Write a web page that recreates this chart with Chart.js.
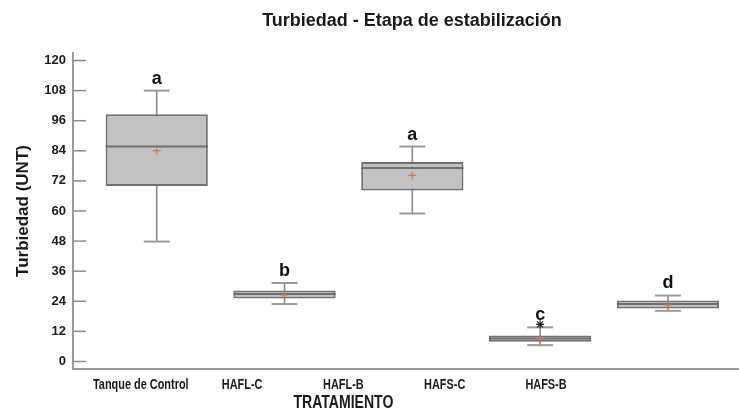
<!DOCTYPE html>
<html><head><meta charset="utf-8">
<script src="https://cdn.jsdelivr.net/npm/chart.js@4.4.1/dist/chart.umd.min.js"></script>
<style>html,body{margin:0;padding:0;background:#fff;}#wrap{width:739px;height:415px;}</style>
</head><body><div id="wrap"><canvas id="c" width="739" height="415"></canvas></div>
<script>
const categories = ['Tanque de Control','HAFL-C','HAFL-B','HAFS-C','HAFS-B'];
const whiskerLow  = [47.8, 22.9, 59.0, 6.5, 20.2];
const q1          = [70.0, 25.1, 68.2, 7.9, 21.1];
const median      = [85.7, 26.9, 77.1, 9.2, 22.9];
const q3          = [98.6, 28.3, 79.5, 10.4, 24.3];
const whiskerHigh = [108.0, 31.3, 85.7, 13.6, 26.3];
const means       = [84.1, 26.5, 74.2, 9.0, 22.6];
const outliers    = [[], [], [], [14.8], []];
const letters     = ['a','b','a','c','d'];
const yTicks      = [0,12,24,36,48,60,72,84,96,108,120];
const chartTitle  = 'Turbiedad - Etapa de estabilización';
const xTitle      = 'TRATAMIENTO';
const yTitle      = 'Turbiedad (UNT)';

const SANS = "'Liberation Sans',Arial,sans-serif";

function narrowText(ctx, text, x, y, size, squeeze) {
  ctx.save();
  ctx.font = 'bold ' + size + 'px ' + SANS;
  ctx.textAlign = 'center'; ctx.textBaseline = 'middle';
  ctx.translate(x, y);
  ctx.scale(squeeze, 1);
  ctx.fillText(text, 0, 0);
  ctx.restore();
}

const extras = {
  id: 'boxExtras',
  beforeDatasetsDraw(chart) {
    const ctx = chart.ctx, xs = chart.scales.x, ys = chart.scales.y;
    ctx.save();
    categories.forEach((c, i) => {
      const px = xs.getPixelForValue(i + 1);
      ctx.strokeStyle = '#8a8a8a';
      ctx.lineWidth = 1.6;
      ctx.beginPath();
      ctx.moveTo(px, ys.getPixelForValue(whiskerLow[i]));
      ctx.lineTo(px, ys.getPixelForValue(whiskerHigh[i]));
      ctx.stroke();
      ctx.strokeStyle = '#9a9a9a';
      ctx.lineWidth = 2;
      [whiskerLow[i], whiskerHigh[i]].forEach(v => {
        const py = ys.getPixelForValue(v);
        ctx.beginPath(); ctx.moveTo(px - 13, py); ctx.lineTo(px + 13, py); ctx.stroke();
      });
    });
    ctx.restore();
  },
  afterDatasetsDraw(chart) {
    const ctx = chart.ctx, xs = chart.scales.x, ys = chart.scales.y, xl = chart.scales.xl;
    const meta = chart.getDatasetMeta(0);
    const area = chart.chartArea;
    ctx.save();
    categories.forEach((c, i) => {
      const px = xs.getPixelForValue(i + 1);
      const w = meta.data[i].width;
      // median
      ctx.strokeStyle = '#6e6e6e'; ctx.lineWidth = 2;
      const my = ys.getPixelForValue(median[i]);
      ctx.beginPath(); ctx.moveTo(px - w / 2, my); ctx.lineTo(px + w / 2, my); ctx.stroke();
      // mean +
      const mny = ys.getPixelForValue(means[i]);
      ctx.strokeStyle = '#cc7a45'; ctx.lineWidth = 1.2;
      ctx.beginPath();
      ctx.moveTo(px - 4, mny); ctx.lineTo(px + 4, mny);
      ctx.moveTo(px, mny - 4); ctx.lineTo(px, mny + 4);
      ctx.stroke();
      // outliers (asterisk)
      ctx.strokeStyle = '#222'; ctx.lineWidth = 1.2;
      outliers[i].forEach(v => {
        const oy = ys.getPixelForValue(v);
        ctx.beginPath();
        ctx.moveTo(px - 4, oy); ctx.lineTo(px + 4, oy);
        ctx.moveTo(px - 3, oy - 3); ctx.lineTo(px + 3, oy + 3);
        ctx.moveTo(px - 3, oy + 3); ctx.lineTo(px + 3, oy - 3);
        ctx.moveTo(px, oy - 4); ctx.lineTo(px, oy + 4);
        ctx.stroke();
      });
      // letter above the upper whisker
      ctx.fillStyle = '#111';
      ctx.font = 'bold 18px ' + SANS;
      ctx.textAlign = 'center'; ctx.textBaseline = 'middle';
      ctx.fillText(letters[i], px, ys.getPixelForValue(whiskerHigh[i]) - 12);
    });
    // inward y ticks
    ctx.strokeStyle = '#8a8a8a'; ctx.lineWidth = 1.5;
    yTicks.forEach(v => {
      const py = ys.getPixelForValue(v);
      ctx.beginPath(); ctx.moveTo(area.left, py); ctx.lineTo(area.left + 13, py); ctx.stroke();
    });
    // category labels (condensed bold)
    ctx.fillStyle = '#1a1a1a';
    categories.forEach((c, i) => narrowText(ctx, c, xl.getPixelForValue(i + 1), 385, 14, 0.78));
    // chart title
    ctx.font = 'bold 18px ' + SANS;
    ctx.textAlign = 'center'; ctx.textBaseline = 'middle';
    ctx.fillText(chartTitle, 412, 21);
    // x title, centred on the middle category label
    narrowText(ctx, xTitle, xl.getPixelForValue(3), 403, 19, 0.74);
    ctx.restore();
  }
};

new Chart(document.getElementById('c'), {
  type: 'bar',
  data: {
    datasets: [{
      data: categories.map((c, i) => ({ x: i + 1, y: [q1[i], q3[i]] })),
      backgroundColor: '#c2c2c2',
      borderColor: '#707070',
      borderWidth: 2,
      borderSkipped: false,
      categoryPercentage: 1,
      barPercentage: 0.8,
      xAxisID: 'x', yAxisID: 'y'
    }]
  },
  options: {
    responsive: false,
    animation: false,
    events: [],
    layout: { padding: { top: 53, right: 0, bottom: 0, left: 0 } },
    plugins: { legend: { display: false }, tooltip: { enabled: false }, title: { display: false } },
    scales: {
      x: {
        type: 'linear', min: 0.345, max: 5.556, offset: false, display: false,
        afterBuildTicks: s => { s.ticks = categories.map((c, i) => ({ value: i + 1 })); }
      },
      xl: {
        type: 'linear', position: 'bottom', min: 0.331, max: 6.905, offset: false,
        afterBuildTicks: s => { s.ticks = categories.map((c, i) => ({ value: i + 1 })); },
        afterFit: s => { s.height = 46; },
        grid: { drawOnChartArea: false, drawTicks: false, offset: false },
        border: { display: true, color: '#999', width: 2 },
        ticks: { display: false }
      },
      y: {
        type: 'linear', min: -3, max: 123,
        afterBuildTicks: s => { s.ticks = yTicks.map(v => ({ value: v })); },
        afterFit: s => { s.width = 73; },
        grid: { drawOnChartArea: false, drawTicks: false },
        border: { display: true, color: '#999', width: 2 },
        ticks: { padding: 7, color: '#1a1a1a', font: { family: SANS, size: 13, weight: 'bold' } },
        title: { display: true, text: yTitle, color: '#1a1a1a', font: { family: SANS, size: 17, weight: 'bold' }, padding: { top: 13, bottom: 0 } }
      }
    }
  },
  plugins: [extras]
});
</script></body></html>
